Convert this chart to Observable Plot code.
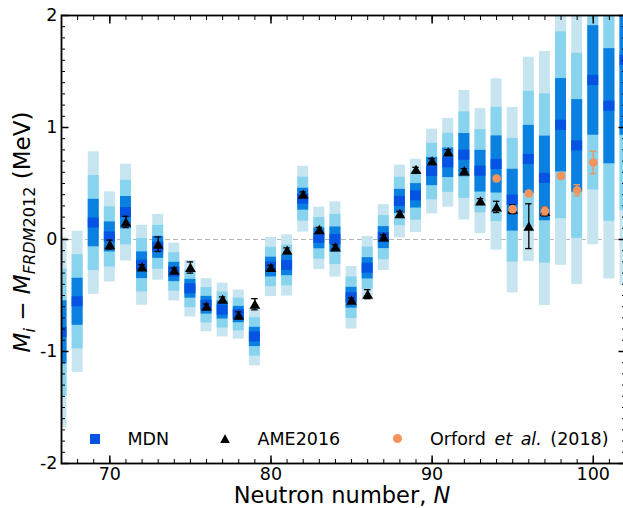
<!DOCTYPE html>
<html><head><meta charset="utf-8">
<script src="https://cdn.jsdelivr.net/npm/d3@7"></script>
<script src="https://cdn.jsdelivr.net/npm/@observablehq/plot@0.6"></script>
<style>
html,body{margin:0;padding:0;background:#fff;overflow:hidden;}
#wrap{position:relative;width:623px;height:508px;font-family:"DejaVu Sans",sans-serif;color:#000;overflow:hidden;}
#wrap svg{display:block;}
.ov{position:absolute;white-space:nowrap;line-height:20px;font-size:17.5px;}
</style></head><body><div id="wrap"></div>
<script>
// ---- data ----
const neutronN = [67,68,69,70,71,72,73,74,75,76,77,78,79,80,81,82,83,84,85,86,87,88,89,90,91,92,93,94,95,96,97,98,99,100,101,102];
const mdnMean  = [-0.83,-0.556,0.147,0.023,0.24,-0.23,-0.07,-0.29,-0.44,-0.587,-0.63,-0.67,-0.87,-0.246,-0.232,0.36,0.01,0.0,-0.52,-0.257,0.017,0.34,0.39,0.607,0.685,0.753,0.61,0.67,0.351,0.715,0.545,1.02,0.836,1.42,1.19,1.6];
const mdnSigma = [0.283,0.21,0.212,0.134,0.144,0.119,0.098,0.086,0.084,0.079,0.08,0.073,0.086,0.088,0.091,0.098,0.093,0.112,0.093,0.095,0.098,0.108,0.109,0.126,0.132,0.193,0.186,0.255,0.276,0.304,0.378,0.417,0.413,0.489,0.514,0.67];

const ameN     = [70,71,72,73,74,75,76,77,78,79,80,81,82,83,84,85,86,87,88,89,90,91,92,93,94,95,96,97];
const ameValue = [-0.045,0.157,-0.244,-0.042,-0.274,-0.25,-0.596,-0.533,-0.676,-0.578,-0.25,-0.095,0.405,0.089,-0.066,-0.542,-0.488,0.023,0.232,0.625,0.702,0.782,0.613,0.345,0.291,0.27,0.119,0.25];
const ameErr   = [0.04,0.05,0.02,0.065,0.02,0.05,0.02,0.02,0.03,0.05,0.02,0.02,0.02,0.02,0.02,0.02,0.04,0.02,0.02,0.02,0.02,0.02,0.02,0.02,0.05,0.04,0.2,0.04];

const orfN     = [94,95,96,97,98,99,100];
const orfValue = [0.545,0.271,0.411,0.255,0.568,0.44,0.688];
const orfErr   = [0.02,0.02,0.02,0.035,0.02,0.05,0.1];

const xMajorTicks = [70,80,90,100];
const xTickLabels = ["70","80","90","100"];
const yMajorTicks = [-2,-1,0,1,2];
const yTickLabels = ["-2","-1","0","1","2"];

// ---- tables ----
const mdn = neutronN.map((n,i)=>({N:n, mu:mdnMean[i], s:mdnSigma[i]}));
const ame = ameN.map((n,i)=>({N:n, v:ameValue[i], e:ameErr[i]}));
const orf = orfN.map((n,i)=>({N:n, v:orfValue[i], e:orfErr[i]}));

const C_LIGHT="#c6e5f0", C_MED="#88d4ee", C_DARK="#0a80e0", C_MEAN="#0453e2", C_ORF="#f5935a";
const halfW = 0.34, capW = 0.2, meanH = 0.045;
const bands = [{k:3, fill:C_LIGHT},{k:2, fill:C_MED},{k:1, fill:C_DARK}];
const xMinor = d3.range(67, 103);
const yMinor = d3.range(-20, 21).map(v => v/10);

const tickStyle = {fontSize:17.5, fontFamily:"DejaVu Sans", fill:"#000"};

const plot = Plot.plot({
  width: 623, height: 508,
  marginLeft: 61, marginRight: -2, marginTop: 15, marginBottom: 45,
  style: {fontFamily:"DejaVu Sans", fontSize:"17.5px", background:"white", color:"#000", overflow:"hidden"},
  x: {domain:[67,102], label:null},
  y: {domain:[-2,2], label:null},
  marks: [
    Plot.ruleY([0], {stroke:"#b5b5b5", strokeDasharray:"5,3", strokeWidth:1.1}),
    ...bands.map(b => Plot.rect(mdn, {x1:d=>d.N-halfW, x2:d=>d.N+halfW, y1:d=>d.mu-b.k*d.s, y2:d=>d.mu+b.k*d.s, fill:b.fill, clip:true})),
    Plot.rect(mdn, {x1:d=>d.N-halfW, x2:d=>d.N+halfW, y1:d=>d.mu-meanH, y2:d=>d.mu+meanH, fill:C_MEAN, clip:true}),
    // AME2016
    Plot.ruleX(ame, {x:"N", y1:d=>d.v-d.e, y2:d=>d.v+d.e, stroke:"black", strokeWidth:1.3}),
    Plot.ruleY(ame, {y:d=>d.v+d.e, x1:d=>d.N-capW, x2:d=>d.N+capW, stroke:"black", strokeWidth:1.3}),
    Plot.ruleY(ame, {y:d=>d.v-d.e, x1:d=>d.N-capW, x2:d=>d.N+capW, stroke:"black", strokeWidth:1.3}),
    Plot.dot(ame, {x:"N", y:"v", symbol:"triangle", r:4, fill:"black", stroke:"none", dy:1.5}),
    // Orford et al.
    Plot.ruleX(orf, {x:"N", y1:d=>d.v-d.e, y2:d=>d.v+d.e, stroke:C_ORF, strokeWidth:1.3}),
    Plot.ruleY(orf, {y:d=>d.v+d.e, x1:d=>d.N-capW, x2:d=>d.N+capW, stroke:C_ORF, strokeWidth:1.3}),
    Plot.ruleY(orf, {y:d=>d.v-d.e, x1:d=>d.N-capW, x2:d=>d.N+capW, stroke:C_ORF, strokeWidth:1.3}),
    Plot.dot(orf, {x:"N", y:"v", r:4.3, fill:C_ORF, stroke:"none"}),
    // ticks (inward, all four sides)
    Plot.axisX({ticks:xMinor, anchor:"bottom", tickSize:-4, tickFormat:()=>"", strokeWidth:1, label:null}),
    Plot.axisX({ticks:xMinor, anchor:"top", tickSize:-4, tickFormat:()=>"", strokeWidth:1, label:null}),
    Plot.axisX({ticks:xMajorTicks, anchor:"bottom", tickSize:-7.5, tickFormat:()=>"", strokeWidth:1.5, label:null}),
    Plot.axisX({ticks:xMajorTicks, anchor:"top", tickSize:-7.5, tickFormat:()=>"", strokeWidth:1.5, label:null}),
    Plot.axisY({ticks:yMinor, anchor:"left", tickSize:-4, tickFormat:()=>"", strokeWidth:1, label:null}),
    Plot.axisY({ticks:yMinor, anchor:"right", tickSize:-4, tickFormat:()=>"", strokeWidth:1, label:null}),
    Plot.axisY({ticks:yMajorTicks, anchor:"left", tickSize:-7.5, tickFormat:()=>"", strokeWidth:1.5, label:null}),
    Plot.axisY({ticks:yMajorTicks, anchor:"right", tickSize:-7.5, tickFormat:()=>"", strokeWidth:1.5, label:null}),
    // tick labels
    Plot.axisX({ticks:xMajorTicks, anchor:"bottom", tickSize:0, tickPadding:4, tickFormat:(d)=>xTickLabels[xMajorTicks.indexOf(d)], label:null, ...tickStyle}),
    Plot.axisY({ticks:yMajorTicks, anchor:"left", tickSize:0, tickPadding:4, tickFormat:(d)=>yTickLabels[yMajorTicks.indexOf(d)], label:null, ...tickStyle}),
    Plot.frame({stroke:"black", strokeWidth:1.8})
  ]
});
const wrap = document.getElementById("wrap");
wrap.appendChild(plot);

function ov(html, css){ const d=document.createElement("div"); d.className="ov"; d.innerHTML=html; Object.assign(d.style, css); wrap.appendChild(d); return d; }
// legend
ov("", {left:"89.5px", top:"433.7px", width:"10px", height:"10px", background:C_MEAN});
ov("MDN", {left:"127.5px", top:"428.5px"});
ov("", {left:"220px", top:"434.3px", width:"10px", height:"9px", background:"#000", clipPath:"polygon(50% 0, 100% 100%, 0 100%)"});
ov("AME2016", {left:"257.5px", top:"428.5px"});
ov("", {left:"392.6px", top:"433.6px", width:"9px", height:"9px", background:C_ORF, borderRadius:"50%"});
ov("Orford <i>et</i> <i>al.</i> (2018)", {left:"430px", top:"428.5px", wordSpacing:"3px"});
// axis titles
ov("Neutron number, <i>N</i>", {left:"342px", top:"495.2px", fontSize:"22.5px", lineHeight:"18px", transform:"translate(-50%,-50%)"});
ov("<i>M</i><sub style='font-size:70%;vertical-align:-0.25em'><i>i</i></sub> &#8722; <i>M</i><sub style='font-size:70%;vertical-align:-0.25em'><i>FRDM</i>2012</sub> (MeV)",
   {left:"26px", top:"232px", fontSize:"23px", lineHeight:"26px", transform:"translate(-50%,-50%) rotate(-90deg)"});
</script></body></html>
